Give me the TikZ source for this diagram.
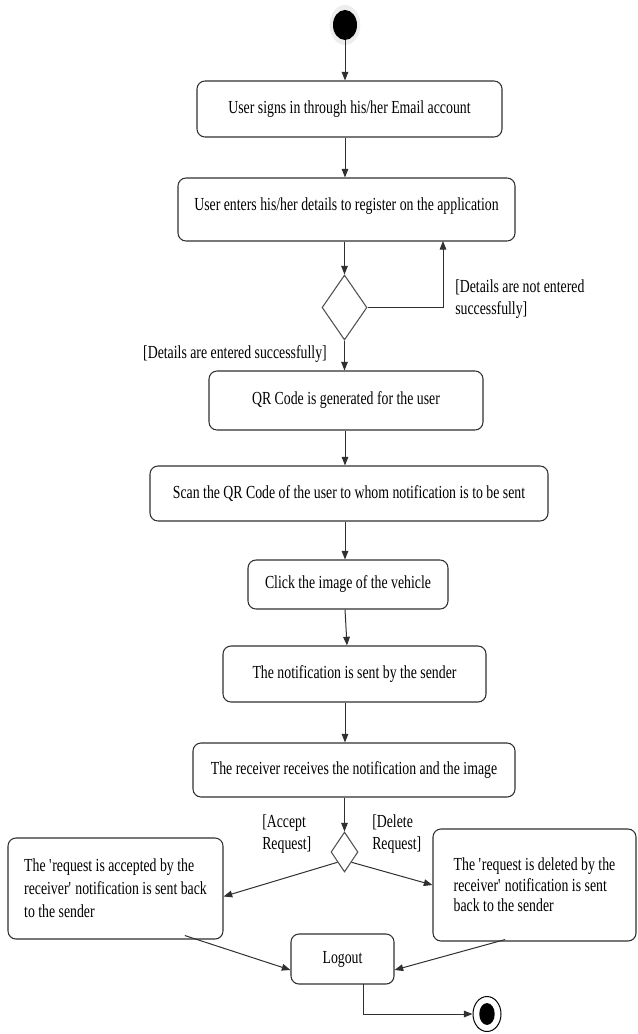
\documentclass[tikz,border=0pt]{standalone}
\usepackage{fontspec}
\setmainfont{Liberation Serif}[FakeStretch=0.75]
\usetikzlibrary{shapes.geometric,arrows.meta}
\definecolor{lc}{HTML}{303030}
\definecolor{dc}{HTML}{505050}
\newcommand{\sq}{\textquotesingle}
\tikzset{
  box/.style={draw=lc, line width=0.8pt, rounded corners=6pt, inner sep=0pt, align=center,
    font=\fontsize{13.8pt}{17pt}\selectfont},
  dec/.style={draw=dc, line width=0.8pt, diamond, inner sep=0pt},
  arr/.style={draw=lc, line width=0.75pt, -{Triangle[length=6.5pt,width=5pt]}},
  lbl/.style={inner sep=0pt, align=left, font=\fontsize{13.8pt}{16.5pt}\selectfont},
}
\begin{document}
\begin{tikzpicture}[x=0.75pt,y=-0.75pt]
\useasboundingbox (0,0) rectangle (637,1034);
% start
\fill[black!7] (345,25) ellipse [x radius=11.5pt, y radius=15pt];
\node[ellipse, fill=black, inner sep=0pt, minimum width=18pt, minimum height=22.5pt] (start) at (345,25) {};
% boxes
\node[box, minimum width=228.75pt, minimum height=42pt] (b1) at (349.5,109) {User signs in through his/her Email account};
\node[box, minimum width=252.75pt, minimum height=47.25pt, text depth=8pt] (b2) at (346.5,209.5) {User enters his/her details to register on the application};
\node[dec, minimum width=33.75pt, minimum height=48.75pt] (d1) at (344.5,307.5) {};
\node[box, minimum width=205.5pt, minimum height=44.25pt] (b3) at (346,400.5) {QR Code is generated for the user};
\node[box, minimum width=298.5pt, minimum height=41.25pt] (b4) at (349,493.5) {Scan the QR Code of the user to whom notification is to be sent};
\node[box, minimum width=150pt, minimum height=36.75pt] (b5) at (348,584.5) {Click the image of the vehicle};
\node[box, minimum width=197.25pt, minimum height=42pt] (b6) at (354.5,674) {The notification is sent by the sender};
\node[box, minimum width=241.5pt, minimum height=40.5pt] (b7) at (354,770) {The receiver receives the notification and the image};
\node[dec, minimum width=20.25pt, minimum height=30pt] (d2) at (344.5,852) {};
\node[box, align=left, minimum width=161.25pt, minimum height=75.75pt,
  font=\fontsize{13.8pt}{17.25pt}\selectfont] (b8) at (115.5,888.5)
  {The \sq request is accepted by the\\receiver\sq\ notification is sent back\\to the sender};
\node[box, align=left, minimum width=152.25pt, minimum height=84pt,
  font=\fontsize{13.8pt}{15.5pt}\selectfont] (b9) at (534.5,885)
  {The \sq request is deleted by the\\receiver\sq\ notification is sent\\back to the sender};
\node[box, minimum width=77.25pt, minimum height=37.5pt] (lo) at (342.5,959) {Logout};
% end
\node[ellipse, draw=black, line width=0.75pt, inner sep=0pt, minimum width=21pt, minimum height=26.25pt] (end) at (487,1014) {};
\fill (end) ellipse [x radius=5.8pt, y radius=8.2pt];
% guard labels
\node[lbl, anchor=west] (g1) at (455,299) {[Details are not entered\\successfully]};
\node[lbl, anchor=east] (g2) at (327,354) {[Details are entered successfully]};
\node[lbl, anchor=west] (g3) at (262,834) {[Accept\\Request]};
\node[lbl, anchor=west] (g4) at (372,834) {[Delete\\Request]};
% connectors
\coordinate (r1) at (443,241);
\coordinate (lb) at (363,984);
\draw[arr] (start) -- (start |- b1.north);
\draw[arr] (b1.south -| start) -- (b2.north -| start);
\draw[arr] (b2.south -| d1) -- (d1.north);
\draw[arr] (d1.east) -| (r1);
\draw[arr] (d1.south) -- (b3.north -| d1);
\draw[arr] (b3.south -| start) -- (b4.north -| start);
\draw[arr] (b4.south -| start) -- (b5.north -| start);
\draw[arr] (b5.south -| start) -- ([xshift=1.5pt]b6.north -| start);
\draw[arr] (b6.south -| start) -- (b7.north -| start);
\draw[arr] (b7.south -| d2) -- (d2.north);
\draw[arr] (d2.south west) -- ([yshift=-6pt]b8.east);
\draw[arr] (d2.south east) -- (b9.west);
\draw[arr] ([xshift=52pt,yshift=3pt]b8.south) -- ([yshift=-8.25pt]lo.west);
\draw[arr] ([xshift=-22pt,yshift=1.5pt]b9.south) -- ([yshift=-8.25pt]lo.east);
\draw[arr] (lb) |- (end.west);
\end{tikzpicture}
\end{document}
